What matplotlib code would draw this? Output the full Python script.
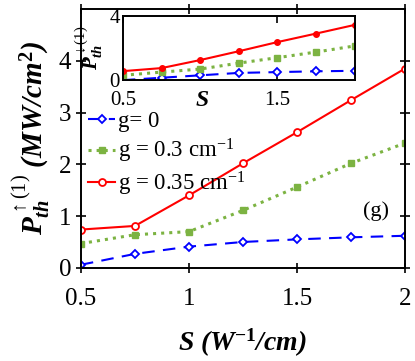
import matplotlib
matplotlib.use("Agg")
import matplotlib.pyplot as plt

plt.rcParams['font.family'] = ['Liberation Serif', 'DejaVu Serif']
plt.rcParams['mathtext.fontset'] = 'custom'
plt.rcParams['mathtext.rm'] = 'Liberation Serif'
plt.rcParams['mathtext.it'] = 'Liberation Serif:italic:bold'
plt.rcParams['mathtext.bf'] = 'Liberation Serif:bold'

s = [0.5, 0.75, 1.0, 1.25, 1.5, 1.75, 2.0]

# main panel (upward threshold)
up_g0 = [0.06, 0.27, 0.41, 0.50, 0.55, 0.59, 0.62]
up_g03 = [0.47, 0.64, 0.70, 1.11, 1.56, 2.02, 2.41]
up_g035 = [0.74, 0.81, 1.40, 2.02, 2.62, 3.24, 3.85]

# inset (downward threshold)
dn_g0 = [0.0, 0.15, 0.30, 0.45, 0.50, 0.55, 0.58]
dn_g03 = [0.30, 0.50, 0.69, 1.06, 1.40, 1.75, 2.13]
dn_g035 = [0.56, 0.75, 1.25, 1.80, 2.37, 2.90, 3.44]

labels = ['g= 0', 'g = 0.3 cm$^{\\mathrm{-1}}$', 'g = 0.35 cm$^{\\mathrm{-1}}$']

fig = plt.figure(figsize=(4.15, 3.61), dpi=100)
ax = fig.add_axes([0.195, 0.258, 0.781, 0.717])

ax.plot(s, up_g0, color='blue', ls='--', dashes=(6, 4), lw=1.5, marker='D', ms=4,
        mfc='white', mec='blue', mew=1.3, label=labels[0])
ax.plot(s, up_g03, color='#7cb342', ls=':', lw=2.2, marker='s', ms=5,
        mfc='#7cb342', mec='#7cb342', label=labels[1])
ax.plot(s, up_g035, color='red', ls='-', lw=1.5, marker='o', ms=5,
        mfc='white', mec='red', mew=1.3, label=labels[2])

ax.set_xlim(0.5, 2)
ax.set_ylim(0, 5)
ax.set_xticks([0.5, 1, 1.5, 2])
ax.set_xticklabels(['0.5', '1', '1.5', '2'])
ax.set_yticks([0, 1, 2, 3, 4])
ax.tick_params(direction='inout', length=7, width=1.2, labelsize=18,
               top=True, right=True)
ax.tick_params(axis='x', pad=11)
for sp in ax.spines.values():
    sp.set_linewidth(1.4)

ax.set_xlabel('S (W$^{\\mathbf{-1}}$/cm)', fontsize=20, fontweight='bold',
              style='italic', labelpad=12)
ax.set_ylabel('$P_{th}^{\\uparrow(1)}$ (MW/cm$^{\\mathbf{2}}$)', fontsize=21,
              fontweight='bold', style='italic', labelpad=4)

ax.legend(loc='upper left', bbox_to_anchor=(-0.005, 0.64), frameon=False,
          fontsize=16.5, handlelength=1.15, handletextpad=0.15,
          labelspacing=0.2, borderaxespad=0)
ax.text(0.91, 0.22, '(g)', transform=ax.transAxes, fontsize=16,
        ha='center', va='center')

# inset
ins = fig.add_axes([0.296, 0.778, 0.559, 0.178])
ins.plot(s, dn_g0, color='blue', ls='--', dashes=(6, 4), lw=1.5, marker='D',
         ms=4, mfc='white', mec='blue', mew=1.3)
ins.plot(s, dn_g03, color='#7cb342', ls=':', lw=2.2, marker='s', ms=5,
         mfc='#7cb342', mec='#7cb342')
ins.plot(s, dn_g035, color='red', ls='-', lw=1.5, marker='o', ms=4,
         mfc='red', mec='red')
ins.set_xlim(0.5, 2)
ins.set_ylim(0, 4)
ins.set_xticks([0.5, 1.5])
ins.set_xticklabels(['0.5', '1.5'])
ins.set_yticks([0, 4])
ins.tick_params(direction='in', length=5, width=1.2, labelsize=15,
                top=True, right=False, pad=2)
ins.tick_params(axis='x', pad=8)
for sp in ins.spines.values():
    sp.set_linewidth(1.4)
ins.set_xlabel('S', fontsize=17, fontweight='bold', style='italic')
ins.xaxis.set_label_coords(0.34, -0.16)
ins.xaxis.label.set_va('top')
ins.set_ylabel('$P_{th}^{\\downarrow(1)}$', fontsize=15, labelpad=0)
ins.yaxis.set_label_coords(-0.075, 0.5)

fig.savefig('out.png', dpi=100)
